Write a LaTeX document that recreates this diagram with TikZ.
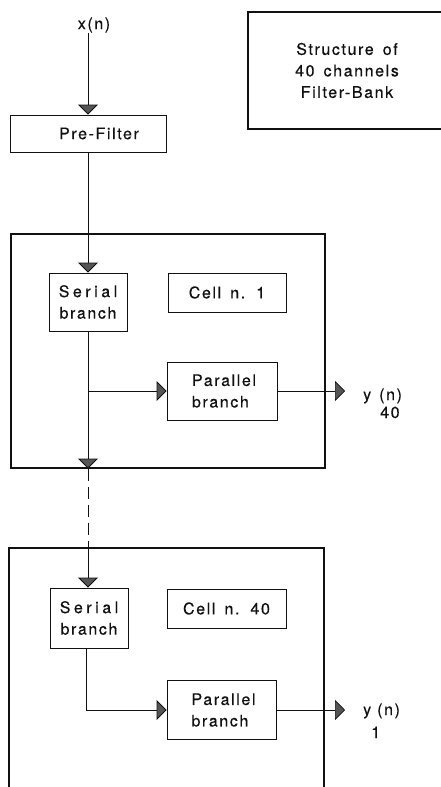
\documentclass[tikz,border=0pt]{standalone}
\usepackage{fontspec}
\setmainfont{TeX Gyre Heros}[LetterSpace=10,WordSpace=1.5,FakeBold=0.4]
\usetikzlibrary{arrows.meta,positioning}
\definecolor{fbInk}{HTML}{111111}
\definecolor{fbTip}{HTML}{555555}
\tikzset{
 fbank/.style={font=\fontsize{16}{21.5}\selectfont,line join=miter,text=fbInk,draw=fbInk},
 block/.style={rectangle,draw=fbInk,line width=.85pt,inner sep=0pt,align=center},
 cellframe/.style={rectangle,draw=fbInk,line width=1.2pt,inner sep=0pt},
 sig/.style={draw=fbInk,line width=.85pt,-{Triangle[length=10pt,width=20pt,fill=fbTip]}},
 outsig/.style={sig,line width=.6pt},
 chain/.style={draw=fbInk,line width=.85pt,dash pattern=on 12pt off 6pt},
 lbl/.style={inner sep=0pt,anchor=base west}
}
\begin{document}
\begin{tikzpicture}[fbank,x=1pt,y=-1pt]
 \useasboundingbox (0,0) rectangle (441,787);
 \node[inner sep=0pt] (xin) at (94,25) {x(n)};
 \node[block,minimum width=156pt,minimum height=37pt] (prefilter) at (88,133.5) {\hspace*{22pt}Pre-Filter};
 \node[block,line width=1.1pt,minimum width=198pt,minimum height=117pt] (title) at (347,70.5)
  {Structure of\\40 channels\\Filter-Bank};
 \draw[sig] (xin.south -| prefilter.north) -- (prefilter.north);
 \node[cellframe,minimum width=314pt,minimum height=234pt] (cellA) at (168,351) {};
 \node[block,minimum width=78pt,minimum height=58pt] (serialA) at (88,302)
  {{\addfontfeature{LetterSpace=22}Serial}\\branch};
 \node[block,minimum width=118pt,minimum height=39pt] (nameA) at (227,292.5) {Cell n. 1};
 \node[block,align=left,minimum width=110pt,minimum height=58pt] (parallelA) at (222,391)
  {\hspace*{4pt}Parallel\\\hspace*{4pt}branch};
 \coordinate (outAend) at (345,391);
 \node[lbl] (yA) at (363,400) {y\hspace{8pt}(n)};
 \node[lbl] (yAidx) at (380,418) {40};
 \draw[sig] (prefilter.south) -- (serialA.north);
 \draw[sig] (serialA.south) -- (serialA.south |- cellA.south);
 \draw[sig] (serialA.south |- parallelA.west) -- (parallelA.west);
 \draw[outsig] (parallelA.east) -- (outAend);
 \coordinate (cellBtop) at (88,548);
 \draw[cellframe] (9,800) |- (324,548) -- (324,800);
 \draw[chain] (serialA.south |- cellA.south) -- (cellBtop);
 \node[block,minimum width=78pt,minimum height=60pt] (serialB) at (89,618)
  {{\addfontfeature{LetterSpace=22}Serial}\\branch};
 \node[block,minimum width=119pt,minimum height=39pt] (nameB) at (226.5,608.5) {Cell n. 40};
 \node[block,align=left,minimum width=109pt,minimum height=59pt] (parallelB) at (221.5,710)
  {\hspace*{4pt}Parallel\\\hspace*{4pt}branch};
 \coordinate (outBend) at (345,710);
 \node[lbl] (yB) at (363,715) {y\hspace{6pt}(n)};
 \node[lbl] (yBidx) at (371,738) {1};
 \draw[sig] (cellBtop) -- (serialB.north -| cellBtop);
 \draw[sig] ([xshift=-3pt]serialB.south) |- (parallelB.west);
 \draw[outsig] (parallelB.east) -- (outBend);
\end{tikzpicture}
\end{document}
